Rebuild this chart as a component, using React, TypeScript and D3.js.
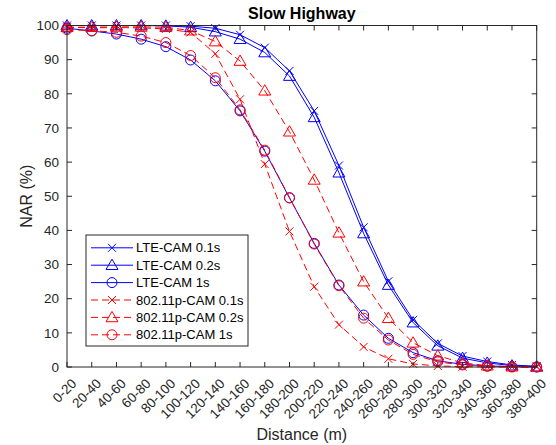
import React from 'react';
import * as d3 from 'd3';

const categories = ['0-20', '20-40', '40-60', '60-80', '80-100', '100-120', '120-140', '140-160', '160-180', '180-200',
  '200-220', '220-240', '240-260', '260-280', '280-300', '300-320', '320-340', '340-360', '360-380', '380-400'];

const lte01 = [100, 100, 100, 100, 100, 99.8, 99.2, 97.3, 93.5, 86.7, 75, 59, 40.9, 25.1, 13.8, 6.9, 3.2, 1.6, 0.6, 0.2];
const lte02 = [100, 100, 100, 100, 99.9, 99.5, 98.2, 96, 92.1, 85.2, 73.1, 56.9, 39.1, 24, 13, 6.2, 2.6, 1.2, 0.4, 0.1];
const lte1 = [99.2, 98.4, 97.5, 96, 93.8, 89.9, 83.8, 75, 63.2, 49.5, 36.2, 24, 15.2, 8.4, 4.2, 1.8, 0.8, 0.3, 0.1, 0];
const p01 = [99.5, 99.3, 99.4, 99.3, 99, 98, 91.7, 78.4, 59.4, 39.7, 23.5, 12.4, 5.9, 2.4, 0.9, 0.3, 0.1, 0, 0, 0];
const p02 = [99.5, 99.5, 99.6, 99.6, 99.5, 98.5, 95.3, 89.6, 80.9, 68.9, 54.8, 39.3, 25, 14.3, 7.1, 3.3, 1.2, 0.4, 0.1, 0];
const p1 = [98.8, 98.5, 98, 96.9, 95, 91.2, 84.7, 75.3, 63.5, 49.6, 36, 23.8, 14.3, 7.9, 3.7, 1.5, 0.6, 0.2, 0, 0];

const yTicks = [0, 10, 20, 30, 40, 50, 60, 70, 80, 90, 100];

const series = [
  { name: 'LTE-CAM 0.1s', values: lte01, color: '#0000ff', dash: '', marker: 'x' },
  { name: 'LTE-CAM 0.2s', values: lte02, color: '#0000ff', dash: '', marker: 'tri' },
  { name: 'LTE-CAM 1s', values: lte1, color: '#0000ff', dash: '', marker: 'circle' },
  { name: '802.11p-CAM 0.1s', values: p01, color: '#ff0000', dash: '7,4', marker: 'x' },
  { name: '802.11p-CAM 0.2s', values: p02, color: '#ff0000', dash: '7,4', marker: 'tri' },
  { name: '802.11p-CAM 1s', values: p1, color: '#ff0000', dash: '7,4', marker: 'circle' },
];

const W = 556, H = 445;
const left = 67, right = 536.7, top = 25.5, bottom = 367;
const font = 'Liberation Sans, Arial, Helvetica, sans-serif';
const axisColor = '#262626';

function Marker({ type, x, y, color }: { type: string; x: number; y: number; color: string }) {
  if (type === 'x') {
    const s = 4;
    return <path d={`M${x - s},${y - s}L${x + s},${y + s}M${x - s},${y + s}L${x + s},${y - s}`} stroke={color} fill="none" strokeWidth={1} />;
  }
  if (type === 'tri') {
    const s = 6;
    return <path d={`M${x},${y - s}L${x + s},${y + s * 0.72}L${x - s},${y + s * 0.72}Z`} stroke={color} fill="none" strokeWidth={1} />;
  }
  return <circle cx={x} cy={y} r={5} stroke={color} fill="none" strokeWidth={1} />;
}

export default function App() {
  const x = d3.scalePoint<string>().domain(categories).range([left, right]);
  const y = d3.scaleLinear().domain([0, 100]).range([bottom, top]);
  const line = d3.line<number>().x((_, i) => x(categories[i])!).y((d) => y(d));

  const legX = 86, legY = 235, legW = 162, legH = 111, rowH = 17.4;

  return (
    <svg width={W} height={H} style={{ position: 'absolute', left: 0, top: 0, background: '#fff' }} fontFamily={font}>
      <rect x={0} y={0} width={W} height={H} fill="#fff" />
      {series.map((s) => (
        <g key={s.name}>
          <path d={line(s.values)!} fill="none" stroke={s.color} strokeWidth={1} strokeDasharray={s.dash} />
          {s.values.map((v, i) => (
            <Marker key={i} type={s.marker} x={x(categories[i])!} y={y(v)} color={s.color} />
          ))}
        </g>
      ))}
      {/* axes box */}
      <rect x={left} y={top} width={right - left} height={bottom - top} fill="none" stroke={axisColor} strokeWidth={1} />
      {categories.map((c) => {
        const xx = x(c)!;
        return (
          <g key={c}>
            <line x1={xx} x2={xx} y1={bottom} y2={bottom - 5} stroke={axisColor} />
            <line x1={xx} x2={xx} y1={top} y2={top + 5} stroke={axisColor} />
            <text transform={`translate(${xx + 7},${bottom + 14}) rotate(-45)`} textAnchor="end" dy="0.35em" fontSize={13.5} fill={axisColor}>{c}</text>
          </g>
        );
      })}
      {yTicks.map((t) => (
        <g key={t}>
          <line x1={left} x2={left + 5} y1={y(t)} y2={y(t)} stroke={axisColor} />
          <line x1={right} x2={right - 5} y1={y(t)} y2={y(t)} stroke={axisColor} />
          <text x={left - 8} y={y(t)} dy="0.35em" textAnchor="end" fontSize={13.5} fill={axisColor}>{t}</text>
        </g>
      ))}
      <text x={(left + right) / 2} y={19} textAnchor="middle" fontSize={16} fontWeight="bold" fill="#000">Slow Highway</text>
      <text x={(left + right) / 2} y={440} textAnchor="middle" fontSize={16} fill={axisColor}>Distance (m)</text>
      <text transform={`translate(32,${(top + bottom) / 2}) rotate(-90)`} textAnchor="middle" fontSize={16} fill={axisColor}>NAR (%)</text>
      {/* legend */}
      <rect x={legX} y={legY} width={legW} height={legH} fill="#fff" stroke={axisColor} strokeWidth={1} />
      {series.map((s, i) => {
        const cy = legY + 12.8 + i * rowH;
        return (
          <g key={s.name}>
            <line x1={legX + 5} x2={legX + 47} y1={cy} y2={cy} stroke={s.color} strokeDasharray={s.dash} />
            <Marker type={s.marker} x={legX + 26} y={cy} color={s.color} />
            <text x={legX + 50} y={cy} dy="0.35em" fontSize={13} fill="#000">{s.name}</text>
          </g>
        );
      })}
    </svg>
  );
}
